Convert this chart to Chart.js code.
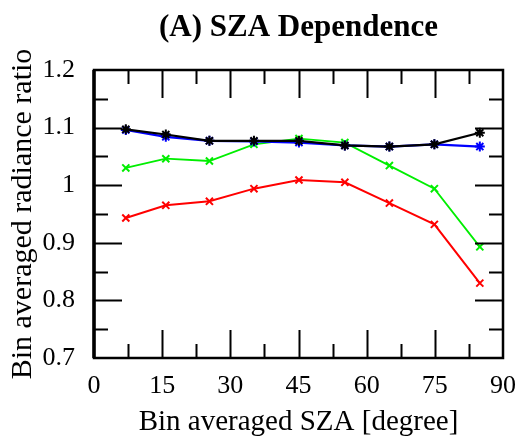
<!DOCTYPE html>
<html>
<head>
<meta charset="utf-8">
<script src="https://cdn.jsdelivr.net/npm/chart.js@4/dist/chart.umd.min.js"></script>
<style>
  html, body { margin: 0; padding: 0; background: #fff; }
  #wrap { width: 523px; height: 436px; }
</style>
</head>
<body>
<div id="wrap"><canvas id="c" width="523" height="436"></canvas></div>
<script>
// Bin-averaged solar zenith angle (degrees)
const sza = [7.0, 15.8, 25.4, 35.2, 45.1, 55.2, 65.0, 74.9, 84.9];

// Bin-averaged radiance ratios, one array per series
const ratioBlack = [1.097, 1.088, 1.077, 1.077, 1.077, 1.069, 1.067, 1.071, 1.091];
const ratioBlue  = [1.096, 1.084, 1.077, 1.076, 1.074, 1.069, 1.067, 1.071, 1.067];
const ratioGreen = [1.030, 1.046, 1.042, 1.071, 1.081, 1.074, 1.034, 0.994, 0.893];
const ratioRed   = [0.943, 0.965, 0.972, 0.994, 1.009, 1.005, 0.969, 0.932, 0.830];

// Axis ticks
const xTicks = [0, 15, 30, 45, 60, 75, 90];
const xTickLabels = ['0', '15', '30', '45', '60', '75', '90'];
const xMinor = [7.5, 22.5, 37.5, 52.5, 67.5, 82.5];
const yTicks = [0.7, 0.8, 0.9, 1.0, 1.1, 1.2];
const yTickLabels = ['0.7', '0.8', '0.9', '1', '1.1', '1.2'];
const yMinor = [0.75, 0.85, 0.95, 1.05, 1.15];

const chartTitle = '(A) SZA Dependence';
const SERIF = "'Liberation Serif', 'Times New Roman', serif";

function series(values, color, style, width) {
  return {
    data: sza.map((s, i) => ({ x: s, y: values[i] })),
    borderColor: color,
    backgroundColor: color,
    borderWidth: width,
    pointStyle: style,
    pointRadius: 5,
    pointBorderWidth: 2,
    pointBorderColor: color,
    tension: 0,
    showLine: true,
    clip: false
  };
}

// Title centred over the plotting area
const titlePlugin = {
  id: 'plotTitle',
  afterDraw(chart) {
    const { ctx, chartArea: a } = chart;
    ctx.save();
    ctx.fillStyle = '#000';
    ctx.font = 'bold 31px ' + SERIF;
    ctx.textAlign = 'center';
    ctx.textBaseline = 'alphabetic';
    ctx.fillText(chartTitle, (a.left + a.right) / 2, 36);
    ctx.restore();
  }
};

// Boxed frame with inward major and minor tick marks on all four sides
const framePlugin = {
  id: 'frame',
  afterDatasetsDraw(chart) {
    const { ctx, chartArea: a, scales: { x, y } } = chart;
    const major = 28, minor = 14;
    ctx.save();
    ctx.strokeStyle = '#000';
    ctx.lineWidth = 2;
    ctx.beginPath();
    const vTick = (v, len) => {
      const px = Math.round(x.getPixelForValue(v)) + 0.5;
      ctx.moveTo(px, a.bottom); ctx.lineTo(px, a.bottom - len);
      ctx.moveTo(px, a.top); ctx.lineTo(px, a.top + len);
    };
    const hTick = (v, len) => {
      const py = Math.round(y.getPixelForValue(v)) + 0.5;
      ctx.moveTo(a.left, py); ctx.lineTo(a.left + len, py);
      ctx.moveTo(a.right, py); ctx.lineTo(a.right - len, py);
    };
    xTicks.slice(1, -1).forEach(v => vTick(v, major));
    xMinor.forEach(v => vTick(v, minor));
    yTicks.slice(1, -1).forEach(v => hTick(v, major));
    yMinor.forEach(v => hTick(v, minor));
    ctx.stroke();
    ctx.lineWidth = 2.5;
    ctx.strokeRect(a.left, a.top, a.right - a.left, a.bottom - a.top);
    ctx.beginPath();
    ctx.lineWidth = 3.5;
    ctx.moveTo(a.left, a.top); ctx.lineTo(a.left, a.bottom);
    ctx.stroke();
    ctx.restore();
  }
};

new Chart(document.getElementById('c'), {
  type: 'line',
  data: {
    datasets: [
      series(ratioBlack, '#000000', 'star', 2.2),
      series(ratioBlue, '#0000ff', 'star', 2.2),
      series(ratioGreen, '#00ee00', 'crossRot', 1.8),
      series(ratioRed, '#ff0000', 'crossRot', 2)
    ]
  },
  options: {
    responsive: false,
    devicePixelRatio: 1,
    animation: false,
    layout: { padding: { left: 0, right: 20, top: 70, bottom: 0 } },
    plugins: {
      legend: { display: false },
      tooltip: { enabled: false },
      title: { display: false }
    },
    scales: {
      x: {
        type: 'linear',
        min: 0, max: 90,
        grid: { display: false },
        border: { display: false },
        afterBuildTicks: s => { s.ticks = xTicks.map(v => ({ value: v })); },
        afterFit: s => { s.height = 78; },
        ticks: {
          color: '#000',
          padding: 5,
          maxRotation: 0,
          font: { family: SERIF, size: 26 },
          callback: v => xTickLabels[xTicks.indexOf(v)]
        },
        title: {
          display: true,
          text: 'Bin averaged SZA [degree]',
          color: '#000',
          font: { family: SERIF, size: 29, lineHeight: 0.95 },
          padding: { top: 0, bottom: 0 }
        }
      },
      y: {
        type: 'linear',
        min: 0.7, max: 1.2,
        grid: { display: false },
        border: { display: false },
        afterBuildTicks: s => { s.ticks = yTicks.map(v => ({ value: v })); },
        afterFit: s => { s.width = 94; },
        ticks: {
          color: '#000',
          padding: 11,
          font: { family: SERIF, size: 26 },
          callback: v => yTickLabels[yTicks.findIndex(t => Math.abs(t - v) < 1e-9)]
        },
        title: {
          display: true,
          text: 'Bin averaged radiance ratio',
          color: '#000',
          font: { family: SERIF, size: 30 },
          padding: { top: 5, bottom: 0 }
        }
      }
    }
  },
  plugins: [framePlugin, titlePlugin]
});
</script>
</body>
</html>
